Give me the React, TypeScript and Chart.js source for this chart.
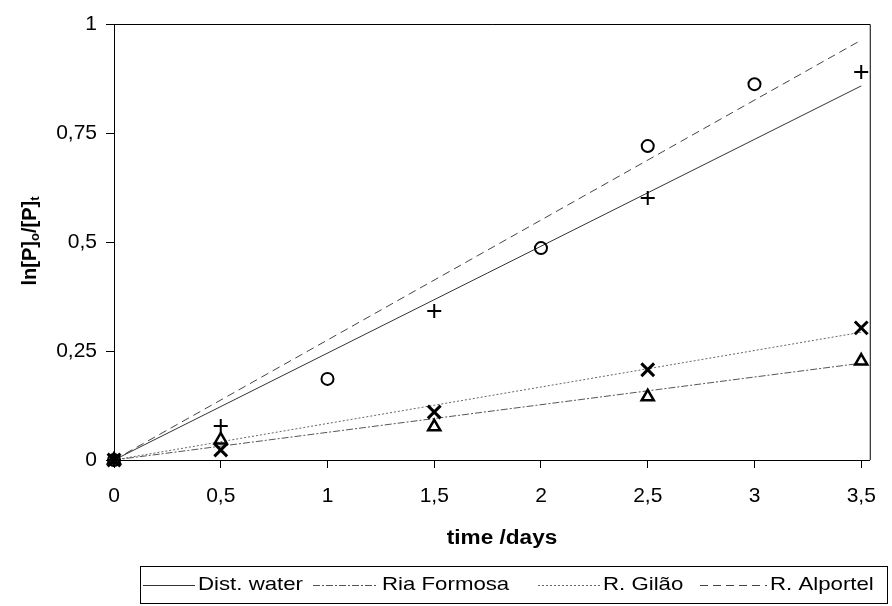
import React, { useEffect, useRef } from "react";
import { Chart, registerables } from "chart.js";

Chart.register(...registerables);

// ---- data ----
const seriesNames = ["Dist. water", "Ria Formosa", "R. Gilão", "R. Alportel"];
const distWaterX = [0, 0.5, 1.5, 2.5, 3.5];
const distWaterY = [0, 0.078, 0.342, 0.601, 0.89];
const riaFormosaX = [0, 0.5, 1.5, 2.5, 3.5];
const riaFormosaY = [0, 0.046, 0.076, 0.145, 0.227];
const gilaoX = [0, 0.5, 1.5, 2.5, 3.5];
const gilaoY = [0, 0.023, 0.11, 0.207, 0.303];
const alportelX = [0, 1, 2, 2.5, 3];
const alportelY = [0, 0.186, 0.486, 0.72, 0.862];
// linear trend lines (through origin), value at x = trendEndX
const trendEndX = 3.5;
const trendEndY = [0.858, 0.222, 0.293, 0.963];
const xTicks = [0, 0.5, 1, 1.5, 2, 2.5, 3, 3.5];
const yTicks = [0, 0.25, 0.5, 0.75, 1];
const xTitle = "time /days";

const FONT = 'Arial, "Liberation Sans", sans-serif';
const lineDashes = [[], [7, 2, 2, 2], [2, 2], [8, 5]];
const lineColors = ["#333", "#555", "#666", "#444"];
const markerStyles = ["cross", "triangle", "crossRot", "circle"];
const markerRadius = [7, 7, 9, 6];
const markerWidth = [2, 2.5, 3, 2];

function pts(xs: number[], ys: number[]) {
  return xs.map((x, i) => ({ x, y: ys[i] }));
}

const fmt = (v: number) => String(v).replace(".", ",");

function stretchedText(
  ctx: CanvasRenderingContext2D,
  text: string,
  x: number,
  y: number,
  sx: number,
  align: "left" | "center"
) {
  ctx.save();
  ctx.translate(x, y);
  ctx.scale(sx, 1);
  ctx.textAlign = align;
  ctx.fillText(text, 0, 0);
  ctx.restore();
}

const decorPlugin = {
  id: "decor",
  afterDraw(chart: any) {
    const ctx = chart.ctx as CanvasRenderingContext2D;
    const a = chart.chartArea;
    ctx.save();
    // frame (top + right)
    ctx.strokeStyle = "#000";
    ctx.lineWidth = 1;
    ctx.beginPath();
    ctx.moveTo(a.left, a.top + 0.5);
    ctx.lineTo(a.right + 0.5, a.top + 0.5);
    ctx.lineTo(a.right + 0.5, a.bottom);
    ctx.stroke();

    // x title
    ctx.fillStyle = "#000";
    ctx.font = `bold 20px ${FONT}`;
    ctx.textBaseline = "middle";
    stretchedText(ctx, xTitle, 502, 538, 1.13, "center");

    // y title with subscripts
    ctx.save();
    ctx.translate(29, 241);
    ctx.rotate(-Math.PI / 2);
    const parts = [
      { t: "ln[P]", sub: false },
      { t: "o", sub: true },
      { t: "/[P]", sub: false },
      { t: "t", sub: true },
    ];
    const big = `bold 20px ${FONT}`;
    const small = `bold 13px ${FONT}`;
    let total = 0;
    for (const p of parts) {
      ctx.font = p.sub ? small : big;
      total += ctx.measureText(p.t).width;
    }
    let cx = -total / 2;
    ctx.textAlign = "left";
    ctx.textBaseline = "alphabetic";
    for (const p of parts) {
      ctx.font = p.sub ? small : big;
      ctx.fillText(p.t, cx, p.sub ? 10 : 7);
      cx += ctx.measureText(p.t).width;
    }
    ctx.restore();

    // legend
    ctx.strokeStyle = "#000";
    ctx.lineWidth = 1;
    ctx.strokeRect(140.5, 566.5, 747, 37);
    const items = [
      { x0: 143, x1: 195, tx: 198 },
      { x0: 313, x1: 377, tx: 382 },
      { x0: 538, x1: 600, tx: 603 },
      { x0: 700, x1: 767, tx: 770 },
    ];
    const yMid = 585;
    items.forEach((it, i) => {
      ctx.save();
      ctx.strokeStyle = lineColors[i];
      ctx.setLineDash(lineDashes[i]);
      ctx.beginPath();
      ctx.moveTo(it.x0, yMid + 0.5);
      ctx.lineTo(it.x1, yMid + 0.5);
      ctx.stroke();
      ctx.restore();
      ctx.font = `19px ${FONT}`;
      ctx.textBaseline = "middle";
      ctx.fillStyle = "#000";
      stretchedText(ctx, seriesNames[i], it.tx, yMid, 1.17, "left");
    });
    ctx.restore();
  },
};

export default function App() {
  const ref = useRef<HTMLCanvasElement | null>(null);

  useEffect(() => {
    document.body.style.margin = "0";
    const canvas = ref.current!;
    const xs = [distWaterX, riaFormosaX, gilaoX, alportelX];
    const ys = [distWaterY, riaFormosaY, gilaoY, alportelY];

    const trendSets = seriesNames.map((name, i) => ({
      type: "line" as const,
      label: name + " trend",
      data: [
        { x: 0, y: 0 },
        { x: trendEndX, y: trendEndY[i] },
      ],
      borderColor: lineColors[i],
      borderWidth: 1,
      borderDash: lineDashes[i],
      pointRadius: 0,
      fill: false,
      order: 2,
    }));
    const pointSets = seriesNames.map((name, i) => ({
      type: "scatter" as const,
      label: name,
      data: pts(xs[i], ys[i]),
      showLine: false,
      pointStyle: markerStyles[i],
      pointRadius: markerRadius[i],
      pointBorderWidth: markerWidth[i],
      pointBorderColor: "#000",
      pointBackgroundColor: "rgba(0,0,0,0)",
      order: 1,
    }));

    const chart = new Chart(canvas, {
      type: "scatter",
      data: { datasets: [...trendSets, ...pointSets] as any },
      options: {
        animation: false,
        responsive: false,
        clip: false as any,
        layout: { padding: { top: 24, right: 16, bottom: 0, left: 0 } },
        plugins: { legend: { display: false }, tooltip: { enabled: false } },
        scales: {
          x: {
            type: "linear",
            min: 0,
            max: 3.54,
            afterFit: (s: any) => {
              s.height = 146;
            },
            afterBuildTicks: (s: any) => {
              s.ticks = xTicks.map((v) => ({ value: v }));
            },
            border: { display: true, color: "#000", width: 1 },
            grid: {
              drawOnChartArea: false,
              drawTicks: true,
              tickLength: 8,
              color: "#000",
            },
            ticks: {
              color: "#000",
              font: { family: FONT, size: 21 },
              padding: 16,
              maxRotation: 0,
              autoSkip: false,
              callback: (v: any) => fmt(Number(v)),
            },
          },
          y: {
            type: "linear",
            min: 0,
            max: 1,
            afterFit: (s: any) => {
              s.width = 114;
            },
            afterBuildTicks: (s: any) => {
              s.ticks = yTicks.map((v) => ({ value: v }));
            },
            border: { display: true, color: "#000", width: 1 },
            grid: {
              drawOnChartArea: false,
              drawTicks: true,
              tickLength: 8,
              color: "#000",
            },
            ticks: {
              color: "#000",
              font: { family: FONT, size: 21 },
              padding: 9,
              autoSkip: false,
              callback: (v: any) => fmt(Number(v)),
            },
          },
        },
      },
      plugins: [decorPlugin],
    });
    return () => chart.destroy();
  }, []);

  return (
    <div style={{ width: 892, height: 606, background: "#fff" }}>
      <canvas ref={ref} width={892} height={606} style={{ display: "block" }} />
    </div>
  );
}
